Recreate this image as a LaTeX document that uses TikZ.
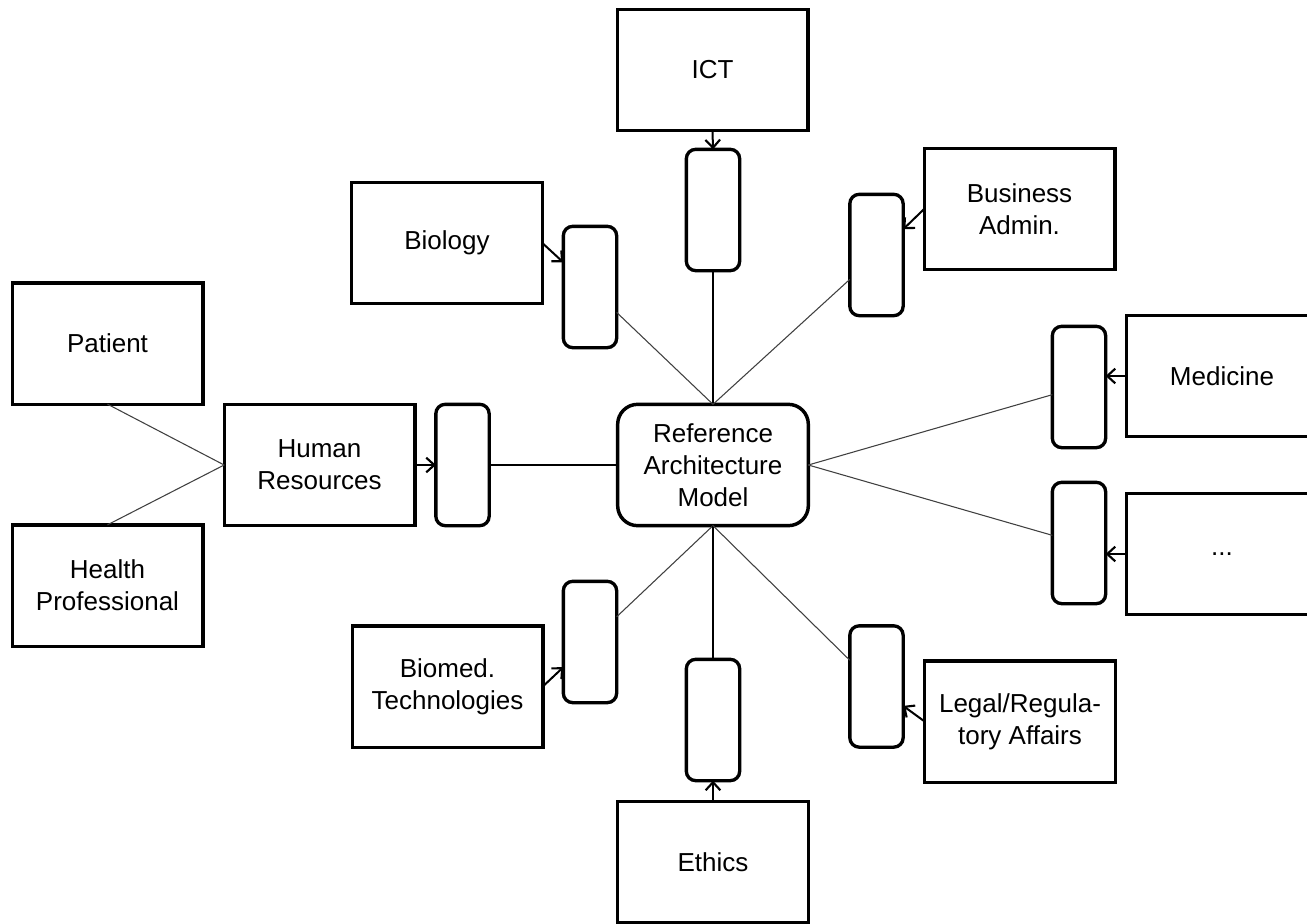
\documentclass[tikz,border=0pt]{standalone}
\usepackage{fontspec}
\setmainfont{Liberation Sans}
\usetikzlibrary{arrows.meta}
\begin{document}
\begin{tikzpicture}[x=0.75pt,y=-0.75pt,
  box/.style={draw,line width=2.5pt,minimum width=143pt,minimum height=91pt,inner sep=0pt,outer sep=0pt,align=center,font=\fontsize{19.5}{24}\selectfont},
  port/.style={draw,line width=2.5pt,rounded corners=7pt,minimum width=40pt,minimum height=91pt,inner sep=0pt,outer sep=0pt},
  core/.style={draw,line width=2.6pt,rounded corners=15pt,minimum width=143pt,minimum height=91pt,inner sep=0pt,outer sep=0pt,align=center,font=\fontsize{19.5}{24}\selectfont},
  link/.style={draw=black!75,line width=0.8pt},
  arr/.style={draw,line width=1.5pt,-{Straight Barb[length=6pt,width=11pt,line width=1.6pt]}}]
\useasboundingbox (0,0) rectangle (1307,924);
\clip (0,0) rectangle (1307,924);
% nodes
\node[box] (ict) at (712.5,70) {ICT};
\node[port] (icts) at (713,210) {};
\node[box] (bio) at (447,243) {Biology};
\node[port] (bios) at (590,287) {};
\node[box] (bus) at (1019.5,209) {Business\\Admin.};
\node[port] (buss) at (876.5,255) {};
\node[box] (pat) at (107.5,343.5) {Patient};
\node[box] (hr) at (319.5,465) {Human\\Resources};
\node[port] (hrs) at (462.5,465) {};
\node[core] (ram) at (713,465) {Reference\\Architecture\\Model};
\node[box] (med) at (1222,376) {Medicine};
\node[port] (meds) at (1079,387) {};
\node[box] (dots) at (1222,554) {...};
\node[port] (dotss) at (1079,543) {};
\node[box] (hp) at (107.5,585.5) {Health\\Professional};
\node[port] (bmts) at (590,642) {};
\node[box] (bmt) at (447.5,686.5) {Biomed.\\Technologies};
\node[port] (eths) at (713,720) {};
\node[box] (eth) at (713,862) {Ethics};
\node[port] (legs) at (876.5,686.5) {};
\node[box] (leg) at (1020,721.5) {Legal/Regula-\\tory Affairs};
% thin links
\draw[link,draw=black] (icts.south) -- (ram.north);
\draw[link] (ram.north) -- (bios);
\draw[link] (ram.north) -- (buss);
\draw[link] (ram.east) -- (meds);
\draw[link] (ram.east) -- (dotss);
\draw[link] (ram.south) -- (bmts);
\draw[link,draw=black] (ram.south) -- (eths.north);
\draw[link] (ram.south) -- (legs);
\draw[link,draw=black] (hrs.east) -- (ram.west);
\draw[link] (pat.south) -- (hr.west);
\draw[link] (hp.north) -- (hr.west);
% arrows
\draw[arr] (ict.south) -- (icts.north);
\draw[arr] (bio.east) -- (bios);
\draw[arr] (bus.west) -- (buss);
\draw[arr] (med.west) -- (meds.east |- med.west);
\draw[arr] (dots.west) -- (dotss.east |- dots.west);
\draw[arr] (hr.east) -- (hrs.west);
\draw[arr] (bmt.east) -- (bmts);
\draw[arr] (eth.north) -- (eths.south);
\draw[arr] (leg.west) -- (legs);
\end{tikzpicture}
\end{document}
